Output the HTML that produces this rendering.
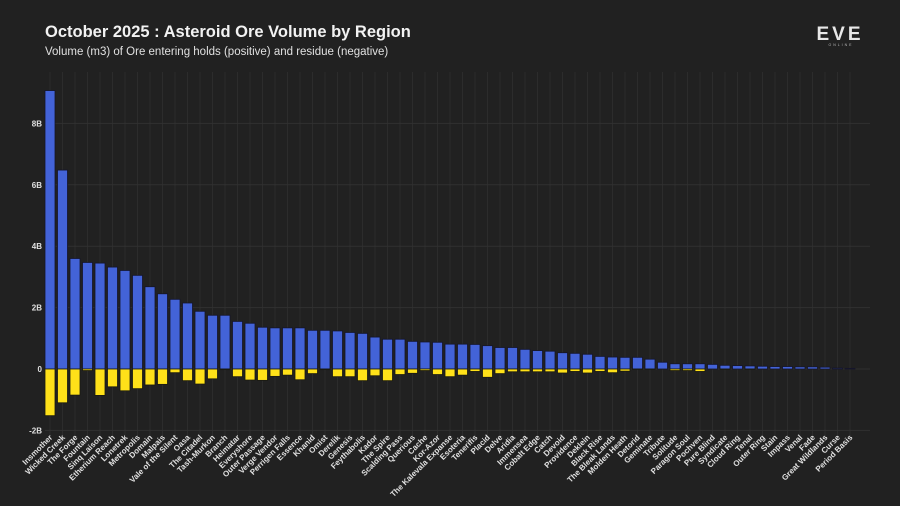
<!DOCTYPE html>
<html><head><meta charset="utf-8">
<style>
html,body{margin:0;padding:0;background:#212121;}
svg{display:block;font-family:"Liberation Sans",sans-serif;}
</style></head>
<body>
<svg id="chart" width="900" height="506" viewBox="0 0 900 506">
<rect x="0" y="0" width="900" height="506" fill="#212121"/>
<text x="45" y="37" fill="#f2f2f2" font-size="16.5" font-weight="bold">October 2025 : Asteroid Ore Volume by Region</text>
<text x="45" y="55" fill="#e0e0e0" font-size="11.5">Volume (m3) of Ore entering holds (positive) and residue (negative)</text>
<g>
<text x="840" y="40" fill="#e8e8e8" font-size="19" font-weight="bold" text-anchor="middle" letter-spacing="3">EVE</text>
<text x="841" y="46" fill="#bbbbbb" font-size="3.5" text-anchor="middle" letter-spacing="2">ONLINE</text>
</g>
<g id="grid"></g>
<g id="bars"></g>
<g id="labels"></g>
</svg>
<script>
const categories = ["Insmother","Wicked Creek","The Forge","Fountain","Sinq Laison","Etherium Reach","Lonetrek","Metropolis","Domain","Malpais","Vale of the Silent","Oasa","The Citadel","Tash-Murkon","Branch","Heimatar","Everyshore","Outer Passage","Verge Vendor","Perrigen Falls","Essence","Khanid","Omist","Derelik","Genesis","Feythabolis","Kador","The Spire","Scalding Pass","Querious","Cache","Kor-Azor","The Kalevala Expanse","Esoteria","Tenerifis","Placid","Delve","Aridia","Immensea","Cobalt Edge","Catch","Devoid","Providence","Deklein","Black Rise","The Bleak Lands","Molden Heath","Detorid","Geminate","Tribute","Solitude","Paragon Soul","Pochven","Pure Blind","Syndicate","Cloud Ring","Tenal","Outer Ring","Stain","Impass","Venal","Fade","Great Wildlands","Curse","Period Basis"];
const positiveValues = [9.07,6.48,3.6,3.47,3.45,3.32,3.21,3.05,2.68,2.45,2.27,2.15,1.88,1.75,1.75,1.55,1.49,1.36,1.34,1.34,1.34,1.26,1.26,1.24,1.19,1.16,1.04,0.97,0.97,0.9,0.88,0.87,0.81,0.81,0.8,0.76,0.7,0.7,0.64,0.6,0.58,0.53,0.51,0.48,0.41,0.39,0.38,0.38,0.32,0.22,0.17,0.17,0.17,0.15,0.12,0.11,0.1,0.09,0.08,0.08,0.07,0.07,0.06,0.03,0.02];
const negativeValues = [-1.52,-1.1,-0.85,-0.05,-0.86,-0.58,-0.71,-0.64,-0.52,-0.5,-0.12,-0.38,-0.49,-0.32,-0.02,-0.25,-0.36,-0.37,-0.24,-0.2,-0.35,-0.15,-0.02,-0.25,-0.25,-0.38,-0.22,-0.38,-0.18,-0.14,-0.05,-0.18,-0.25,-0.2,-0.08,-0.27,-0.15,-0.09,-0.09,-0.09,-0.09,-0.13,-0.08,-0.13,-0.08,-0.12,-0.07,-0.01,-0.01,0,-0.05,-0.05,-0.08,0,-0.01,0,-0.01,0,0,0,0,0,0,0,0];
const yTicks = [-2,0,2,4,6,8];
const yTickLabels = ["-2B","0","2B","4B","6B","8B"];

const NS="http://www.w3.org/2000/svg";
const x0=50, step=12.5, barW=10, zeroY=369, pxPerB=30.7;
function xScale(i){return x0+i*step;}
function yScale(v){return zeroY - v*pxPerB;}
function mk(tag,attrs){const e=document.createElementNS(NS,tag);for(const k in attrs)e.setAttribute(k,attrs[k]);return e;}
const grid=document.getElementById('grid'), bars=document.getElementById('bars'), labels=document.getElementById('labels');

categories.forEach((c,i)=>{
  const l=mk('line',{x1:xScale(i),x2:xScale(i),y1:72,y2:440,stroke:'#2c2c2c','stroke-width':1});
  
  
  grid.appendChild(l);
});
yTicks.forEach((t,i)=>{
  const y=yScale(t);
  const l=mk('line',{x1:45,x2:870,y1:y,y2:y,stroke:'#303030','stroke-width':1});
  
  
  grid.appendChild(l);
  const tx=mk('text',{x:42,y:y+3,fill:'#e0e0e0','font-size':8,'font-weight':'bold','text-anchor':'end'});
  tx.textContent=yTickLabels[i];
  
  
  grid.appendChild(tx);
});
categories.forEach((c,i)=>{
  const x=xScale(i)-barW/2;
  const p=positiveValues[i], n=negativeValues[i];
  const pb=mk('rect',{x:x,y:yScale(p),width:barW,height:Math.max(0.5,zeroY-yScale(p)),fill:'#4363d8',stroke:'#15152a','stroke-width':0.8});
  
  
  bars.appendChild(pb);
  if(n<0){
    const nb=mk('rect',{x:x,y:zeroY,width:barW,height:yScale(n)-zeroY,fill:'#ffe119',stroke:'#1a1a10','stroke-width':0.8});
    
    
    bars.appendChild(nb);
  }
  const tx=mk('text',{x:xScale(i)+3,y:438,fill:'#e0e0e0','font-size':8,'font-weight':'bold','text-anchor':'end',transform:`rotate(-45 ${xScale(i)+3} 438)`});
  tx.textContent=c;
  
  
  labels.appendChild(tx);
});
</script>
</body></html>
